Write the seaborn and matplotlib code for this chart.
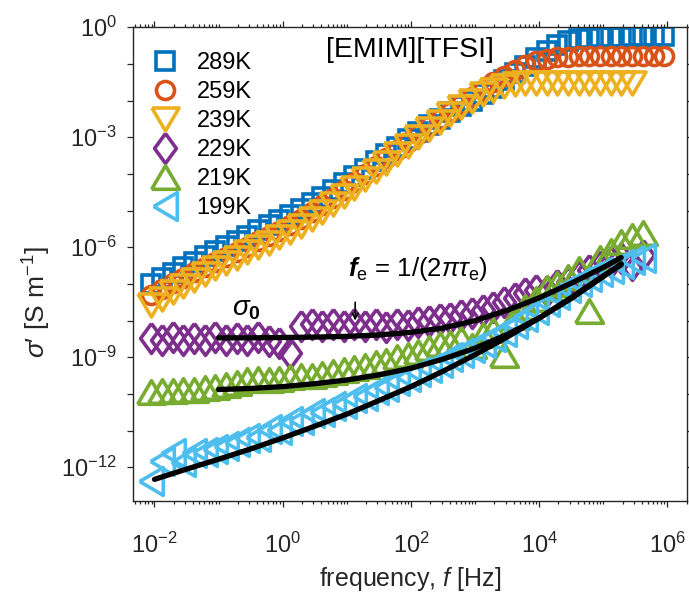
import numpy as np
import pandas as pd
import matplotlib
matplotlib.use("Agg")
import matplotlib.pyplot as plt
import matplotlib.ticker as mticker
import seaborn as sns

# ---------------- data ----------------
# measured frequencies [Hz]
freq = [8.91e-3, 1.31e-2, 1.92e-2, 2.82e-2, 4.14e-2, 6.07e-2,
        8.91e-2, 0.131, 0.192, 0.282, 0.414, 0.607,
        0.891, 1.31, 1.92, 2.82, 4.14, 6.07,
        8.91, 13.1, 19.2, 28.2, 41.4, 60.7,
        89.1, 131, 192, 282, 414, 607,
        891, 1310, 1920, 2820, 4140, 6070,
        8910, 1.31e4, 1.92e4, 2.82e4, 4.14e4, 6.07e4,
        8.91e4, 1.31e5, 1.92e5, 2.82e5, 4.14e5, 6.07e5,
        8.91e5]

# log10 of sigma' [S/m]
log_sig_289K = [-7.00, -6.85, -6.70, -6.55, -6.40, -6.25,
                -6.10, -5.96, -5.82, -5.68, -5.54, -5.40,
                -5.26, -5.11, -4.96, -4.80, -4.63, -4.45,
                -4.26, -4.06, -3.86, -3.66, -3.46, -3.26,
                -3.06, -2.86, -2.67, -2.49, -2.32, -2.16,
                -2.00, -1.83, -1.65, -1.45, -1.25, -1.05,
                -0.85, -0.65, -0.48, -0.37, -0.31, -0.28,
                -0.27, -0.26, -0.26, -0.25, -0.25, -0.25,
                -0.25]
log_sig_259K = [-7.30, -7.14, -6.98, -6.83, -6.68, -6.54,
                -6.40, -6.26, -6.12, -5.98, -5.84, -5.70,
                -5.55, -5.39, -5.22, -5.04, -4.85, -4.65,
                -4.44, -4.23, -4.01, -3.79, -3.57, -3.35,
                -3.13, -2.91, -2.70, -2.50, -2.30, -2.10,
                -1.90, -1.70, -1.50, -1.32, -1.16, -1.02,
                -0.92, -0.86, -0.82, -0.80, -0.78, -0.77,
                -0.77, -0.77, -0.77, -0.77, -0.77, -0.77,
                -0.77]
log_sig_239K = [-7.58, -7.40, -7.22, -7.05, -6.89, -6.73,
                -6.57, -6.42, -6.28, -6.14, -6.00, -5.87,
                -5.73, -5.58, -5.42, -5.24, -5.04, -4.83,
                -4.61, -4.38, -4.15, -3.92, -3.69, -3.46,
                -3.23, -3.00, -2.78, -2.57, -2.37, -2.18,
                -2.00, -1.83, -1.70, -1.61, -1.56, -1.53,
                -1.52, -1.52, -1.52, -1.52, -1.52, -1.52,
                -1.52, -1.52, -1.52, -1.52]
log_sig_229K = [-8.47, -8.52, -8.46, -8.53, -8.47, -8.52,
                -8.46, -8.53, -8.47, -8.52, -8.46, -8.55,
                -8.60, -8.88, -8.15, -8.10, -8.16, -8.10,
                -8.15, -8.09, -8.16, -8.10, -8.18, -8.08,
                -8.12, -8.03, -8.02, -7.95, -7.92, -7.85,
                -7.78, -7.70, -7.62, -7.50, -7.38, -7.26,
                -7.16, -7.20, -7.02, -6.95, -6.78, -6.62,
                -6.50, -6.40, -6.30, -6.48, -6.22]
log_sig_219K = [-9.95, -9.93, -9.92, -9.90, -9.88, -9.85,
                -9.82, -9.76, -9.70, -9.62, -9.58, -9.62,
                -9.60, -9.55, -9.50, -9.50, -9.45, -9.40,
                -9.35, -9.30, -9.25, -9.15, -9.10, -9.00,
                -8.95, -8.85, -8.75, -8.65, -8.60, -8.50,
                -8.70, -8.40, -8.25, -8.95, -7.90, -7.62,
                -7.40, -7.10, -7.00, -6.80, -6.60, -7.75,
                -6.30, -6.10, -5.85, -5.70, -5.62]
log_sig_199K = [-12.37, -11.82, -11.60, -11.85, -11.62, -11.58,
                -11.50, -11.42, -11.30, -11.20, -11.18, -10.95,
                -10.98, -10.75, -10.72, -10.52, -10.48, -10.32,
                -10.28, -10.12, -10.05, -9.90, -9.80, -9.65,
                -9.55, -9.40, -9.30, -9.15, -9.00, -8.88,
                -8.75, -8.60, -8.45, -8.30, -8.10, -7.90,
                -7.70, -7.50, -7.30, -7.10, -6.95, -6.80,
                -6.68, -6.58, -6.45, -6.35, -6.28]

labels = ["289K", "259K", "239K", "229K", "219K", "199K"]

# model fits (black lines)
fit_freq_a = [0.1, 0.316, 1, 3.16, 10, 31.6, 100, 316, 1000, 3160,
              1e4, 3.16e4, 1e5, 1.9e5]
log_fit_229K = [-8.47, -8.47, -8.46, -8.45, -8.43, -8.39, -8.32, -8.20,
                -8.00, -7.72, -7.38, -6.98, -6.55, -6.28]
log_fit_219K = [-9.88, -9.85, -9.80, -9.72, -9.62, -9.48, -9.30, -9.05,
                -8.75, -8.38, -7.93, -7.40, -6.80, -6.45]
fit_freq_b = [0.01, 0.0316, 0.1, 0.316, 1, 3.16, 10, 31.6, 100, 316,
              1000, 3160, 1e4, 3.16e4, 1e5, 1.9e5]
log_fit_199K = [-12.33, -12.05, -11.78, -11.50, -11.20, -10.88, -10.55,
                -10.18, -9.80, -9.38, -8.93, -8.45, -7.93, -7.37, -6.78,
                -6.48]

# ---------------- style ----------------
sns.set_style("ticks")
plt.rcParams["font.family"] = ["Liberation Sans", "DejaVu Sans"]
plt.rcParams["mathtext.fontset"] = "custom"
plt.rcParams["mathtext.rm"] = "Liberation Sans"
plt.rcParams["mathtext.sf"] = "Liberation Sans"
plt.rcParams["mathtext.it"] = "Liberation Sans:italic"
plt.rcParams["mathtext.bf"] = "Liberation Sans:bold"
plt.rcParams["mathtext.bfit"] = "Liberation Sans:italic:bold"
plt.rcParams["axes.unicode_minus"] = False

colors = ["#0072BD", "#D95319", "#EDB120", "#7E2F8E", "#77AC30", "#4DBEEE"]
markers = [
    "s",
    "o",
    [(-1, 0.85), (1, 0.85), (0, -0.85), (-1, 0.85)],
    [(0, 1), (0.73, 0), (0, -1), (-0.73, 0), (0, 1)],
    [(-1, -0.85), (1, -0.85), (0, 0.85), (-1, -0.85)],
    [(-0.85, 0), (0.85, 1), (0.85, -1), (-0.85, 0)],
]
msizes = [13, 13, 19.5, 21.5, 20, 20]
series = [log_sig_289K, log_sig_259K, log_sig_239K,
          log_sig_229K, log_sig_219K, log_sig_199K]

fig = plt.figure(figsize=(6.89, 5.97), dpi=100)
ax = fig.add_axes([0.1935, 0.1608, 0.804, 0.7935])
ax.set_xscale("log")
ax.set_yscale("log")

handles = []
for lab, vals, col, mk, ms in zip(labels, series, colors, markers, msizes):
    df = pd.DataFrame({"f": freq[:len(vals)], "s": 10.0 ** np.array(vals)})
    sns.lineplot(data=df, x="f", y="s", ax=ax, estimator=None, sort=False,
                 linestyle="none", marker=mk, markersize=ms,
                 markerfacecolor="none", markeredgecolor=col,
                 markeredgewidth=2.6, color=col, label=lab, legend=False)
    handles.append(ax.get_lines()[-1])

for ff, vv in [(fit_freq_a, log_fit_229K), (fit_freq_a, log_fit_219K),
               (fit_freq_b, log_fit_199K)]:
    dff = pd.DataFrame({"f": ff, "s": 10.0 ** np.array(vv)})
    sns.lineplot(data=dff, x="f", y="s", ax=ax, estimator=None, sort=False,
                 color="black", linewidth=3.8, legend=False, zorder=5)

ax.set_xlim(10 ** -2.33, 10 ** 6.31)
ax.set_ylim(10 ** -12.92, 1.0)


def sci_fmt(step):
    def f(v, pos):
        e = int(round(np.log10(v)))
        if e % step != 0:
            return ""
        return r"$\mathdefault{10^{%d}}$" % e
    return f


ax.xaxis.set_major_locator(mticker.FixedLocator([1e-2, 1e0, 1e2, 1e4, 1e6]))
ax.xaxis.set_minor_locator(mticker.LogLocator(base=10, subs=np.arange(1, 10), numticks=40))
ax.xaxis.set_major_formatter(mticker.FuncFormatter(sci_fmt(2)))
ax.xaxis.set_minor_formatter(mticker.NullFormatter())
ax.yaxis.set_major_locator(mticker.LogLocator(base=10, subs=(1.0,), numticks=40))
ax.yaxis.set_minor_locator(mticker.NullLocator())
ax.yaxis.set_major_formatter(mticker.FuncFormatter(sci_fmt(3)))

axc = "#262626"
for sp in ax.spines.values():
    sp.set_visible(True)
    sp.set_linewidth(1.0)
    sp.set_color(axc)
ax.tick_params(which="both", direction="out", top=True, right=True,
               color=axc, width=0.9, labelcolor=axc)
ax.tick_params(which="major", length=4)
ax.tick_params(which="minor", length=2.5)
ax.tick_params(axis="x", which="major", labelsize=17, pad=19)
ax.tick_params(axis="y", which="major", labelsize=17, pad=8)

ax.set_xlabel(r"frequency, $\mathit{f}$ [Hz]", fontsize=18, color=axc)
ax.xaxis.set_label_coords(0.5, -0.135)
ax.set_ylabel(r"$\sigma$′ [S m$^{-1}$]", fontsize=19, color=axc)
ax.yaxis.set_label_coords(-0.145, 0.42)

leg = ax.legend(handles=handles, labels=labels, loc="upper left",
                bbox_to_anchor=(0.035, 0.948), frameon=False, fontsize=17,
                numpoints=1, handlelength=1.0, handletextpad=0.85,
                labelspacing=0.3, borderpad=0, borderaxespad=0)
for t in leg.get_texts():
    t.set_color("black")

ax.text(0.5, 0.952, "[EMIM][TFSI]", transform=ax.transAxes, ha="center",
        va="center", fontsize=20.5, color="black")
ax.text(0.162, 1.35e-8, r"$\sigma_\mathbf{0}$", fontsize=20, ha="left",
        va="baseline", color="black")
ax.text(10.5, 1.65e-7, r"$\mathbfit{f}_\mathrm{e}$ = 1/(2$\pi\tau_\mathrm{e}$)",
        fontsize=18.5, ha="left", va="baseline", color="black")
ax.annotate("", xy=(13.5, 10 ** -8.0), xytext=(13.5, 10 ** -7.5),
            arrowprops=dict(arrowstyle="->", color="black", lw=1.2,
                            shrinkA=0, shrinkB=0, mutation_scale=10))

fig.savefig("out.png", dpi=100)
